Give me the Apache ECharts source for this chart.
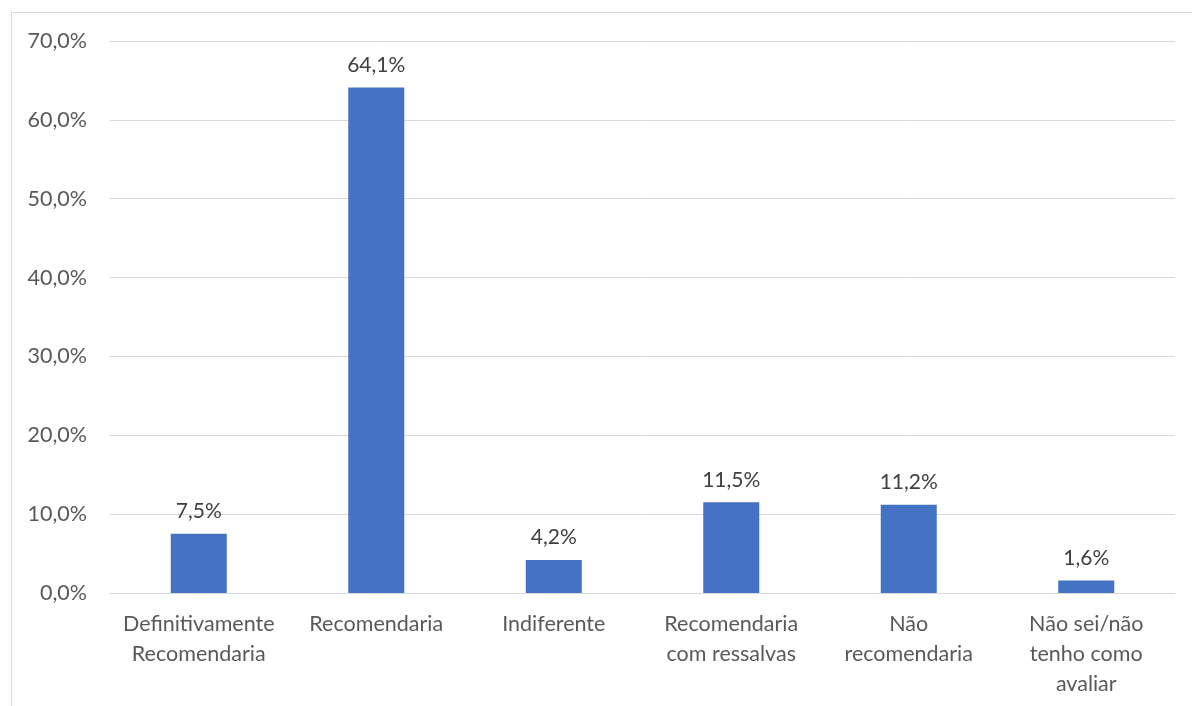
<!DOCTYPE html>
<html>
<head>
<meta charset="utf-8">
<script src="https://cdn.jsdelivr.net/npm/echarts@6/dist/echarts.min.js"></script>
<style>
  html, body { margin: 0; padding: 0; background: #fff; }
  #wrap { position: relative; width: 1192px; height: 706px; overflow: hidden; }
  #frame { position: absolute; left: 11px; top: 12px; width: 1200px; height: 720px; border: 1px solid #d9d9d9; box-sizing: border-box; }
  #chart { position: absolute; left: 0; top: 0; width: 1192px; height: 706px; }
</style>
</head>
<body>
<div id="wrap">
  <div id="frame"></div>
  <div id="chart"></div>
</div>
<script>
// Survey answers and their share of respondents (%)
const categories = [
  'Definitivamente\nRecomendaria',
  'Recomendaria',
  'Indiferente',
  'Recomendaria\ncom ressalvas',
  'Não\nrecomendaria',
  'Não sei/não\ntenho como\navaliar'
];
const shares = [7.5, 64.1, 4.2, 11.5, 11.2, 1.6];
const yMax = 70;
const yStep = 10;

const fmt = v => v.toFixed(1).replace('.', ',');
const font = 'Lato, Open Sans, sans-serif';

const chart = echarts.init(document.getElementById('chart'), null, { renderer: 'canvas' });
chart.setOption({
  animation: false,
  grid: { left: 110, right: 17, top: 41, bottom: 113, containLabel: false },
  xAxis: {
    type: 'category',
    data: categories,
    axisLine: { show: true, lineStyle: { color: '#d9d9d9', width: 1 } },
    axisTick: { show: false },
    axisLabel: {
      color: '#595959', fontSize: 21.5, fontFamily: font,
      lineHeight: 30, margin: 16, interval: 0
    }
  },
  yAxis: {
    type: 'value',
    min: 0, max: yMax, interval: yStep,
    axisLine: { show: false },
    axisTick: { show: false },
    splitLine: { lineStyle: { color: '#d9d9d9', width: 1 } },
    axisLabel: {
      color: '#595959', fontSize: 21.5, fontFamily: font, margin: 23,
      formatter: v => fmt(v) + '%'
    }
  },
  series: [{
    type: 'bar',
    data: shares,
    barWidth: 56,
    itemStyle: { color: '#4472c4' },
    label: {
      show: true, position: 'top', distance: 12,
      color: '#404040', fontSize: 21, fontFamily: font,
      formatter: p => fmt(p.value) + '%'
    }
  }]
});
</script>
</body>
</html>
